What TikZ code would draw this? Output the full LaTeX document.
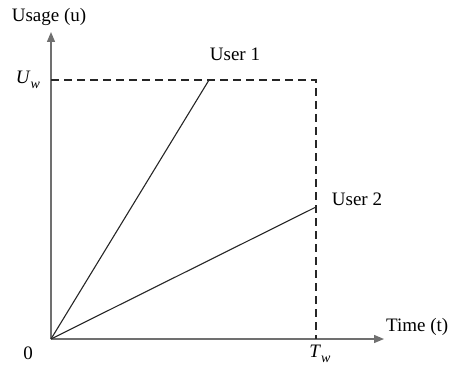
\documentclass[tikz,border=0pt]{standalone}
\usepackage{fontspec}
\setmainfont{Liberation Serif}
\usepackage{tikz}
\usetikzlibrary{arrows.meta,positioning}
\definecolor{AxisGray}{HTML}{707070}
\newcommand{\itsub}[2]{\textit{#1}\raisebox{-5pt}{\fontsize{14}{16}\selectfont\textit{#2}}}

\begin{document}
\begin{tikzpicture}[
  x=1pt,y=1pt,
  axis/.style={-{Triangle[length=10pt,width=8pt]},line width=1.3pt,draw=AxisGray},
  usr/.style={line width=1.1pt,draw=black!85},
  lim/.style={dashed,dash pattern=on 8pt off 5pt,line width=1.1pt,draw=black!85},
  lbl/.style={font=\fontsize{19}{22}\selectfont,inner sep=0pt}
]
\useasboundingbox (0,0) rectangle (454,370);
\coordinate (O) at (51,31);
\coordinate (ytop) at (51,338);
\coordinate (xend) at (384,31);
\coordinate (uw) at (51,290);
\coordinate (corner) at (316,290);
\coordinate (tw) at (316,31);
\coordinate (u1) at (209,290);
\coordinate (u2) at (316,163);
% axes
\draw[axis] (O)--(ytop);
\draw[axis] (O)--(xend);
% limits
\draw[lim] (uw)--(corner)--(tw);
% users
\draw[usr] (O)--(u1);
\draw[usr] (O)--(u2);
% labels
\node[lbl] (ylab) at (49,353) {Usage (u)};
\node[lbl,right=2pt of xend,anchor=base west,yshift=8pt] (xlab) {Time (t)};
\node[lbl] (uwlab) at (28,290) {\itsub{U}{w}};
\node[lbl] (twlab) at (320,16) {\itsub{T}{w}};
\node[lbl] (zero) at (28,17) {0};
\node[lbl] (u1lab) at (235,316) {User 1};
\node[lbl] (u2lab) at (357,171) {User 2};
\end{tikzpicture}
\end{document}
